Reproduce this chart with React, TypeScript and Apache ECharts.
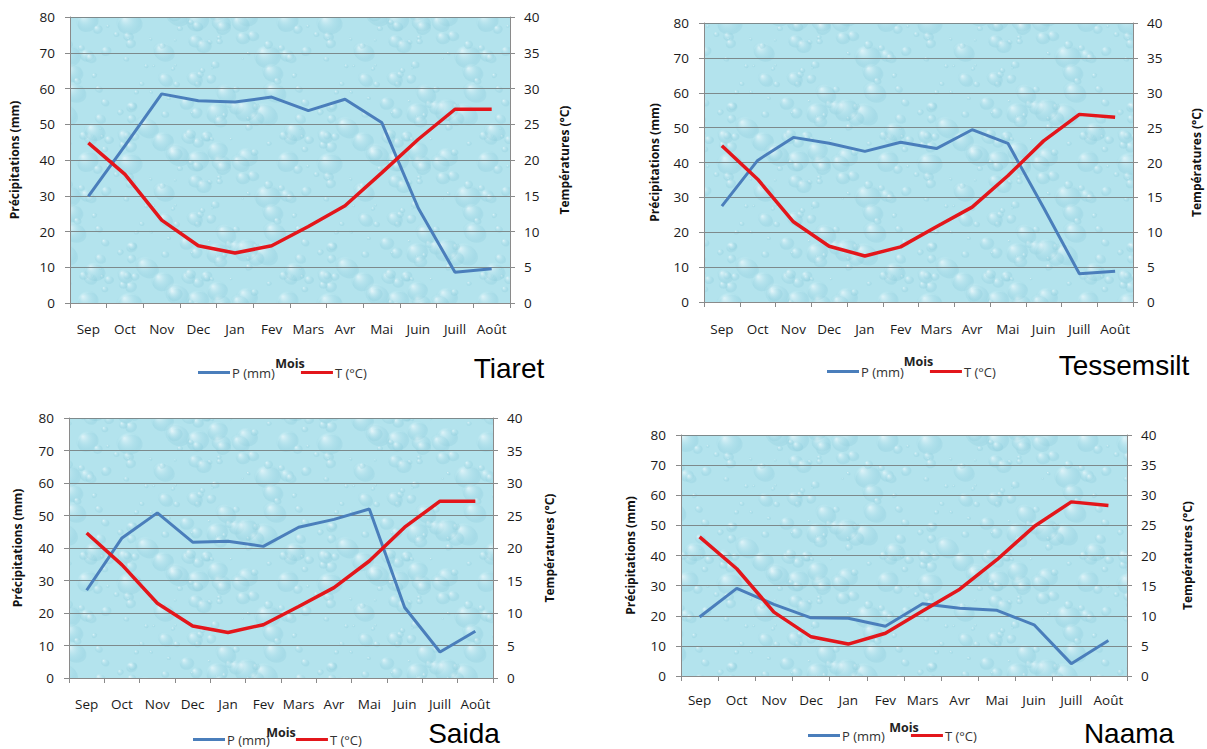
import React, { useEffect, useRef } from 'react';
import * as echarts from 'echarts';

// ---------- data ----------
const months = ['Sep', 'Oct', 'Nov', 'Dec', 'Jan', 'Fev', 'Mars', 'Avr', 'Mai', 'Juin', 'Juill', 'Août'];
const stations = ['Tiaret', 'Tessemsilt', 'Saida', 'Naama'];

const tiaretP = [29.8, 44.0, 58.5, 56.6, 56.2, 57.6, 53.8, 57.0, 50.5, 26.5, 8.6, 9.6];
const tiaretT = [22.4, 18.0, 11.6, 8.0, 7.0, 8.0, 10.7, 13.6, 18.2, 22.9, 27.1, 27.1];

const tessemsiltP = [27.5, 40.6, 47.2, 45.5, 43.2, 45.8, 44.0, 49.4, 45.5, 27.0, 8.1, 8.8];
const tessemsiltT = [22.4, 17.6, 11.5, 8.0, 6.6, 7.9, 10.8, 13.6, 18.1, 23.1, 26.9, 26.5];

const saidaP = [27.0, 43.1, 50.8, 41.8, 42.1, 40.5, 46.4, 48.8, 52.0, 21.7, 8.0, 14.4];
const saidaT = [22.3, 17.4, 11.5, 8.0, 7.0, 8.2, 11.0, 13.9, 18.0, 23.2, 27.2, 27.2];

const naamaP = [19.6, 29.1, 23.8, 19.3, 19.2, 16.5, 24.0, 22.5, 21.8, 17.0, 4.1, 11.8];
const naamaT = [23.1, 17.8, 10.6, 6.5, 5.3, 7.1, 10.8, 14.4, 19.3, 24.8, 28.9, 28.3];

const precipSeries = [tiaretP, tessemsiltP, saidaP, naamaP];
const tempSeries = [tiaretT, tessemsiltT, saidaT, naamaT];

const pName = 'P (mm)';
const tName = 'T (°C)';
const leftAxisName = 'Précipitations (mm)';
const rightAxisName = 'Températures (°C)';
const xAxisName = 'Mois';

// ---------- layout ----------
const layouts = [
  { left: 70, top: 17, width: 440, height: 286, lGap: 50, rGap: 48, xGap: 54, lblMargin: 19, legLeft: 198, legY: 375, titleX: 509, titleY: 368 },
  { left: 704, top: 23, width: 429, height: 279, lGap: 44, rGap: 57, xGap: 53, lblMargin: 20, legLeft: 827, legY: 374, titleX: 1124, titleY: 365 },
  { left: 69, top: 418, width: 424, height: 260, lGap: 46, rGap: 50, xGap: 48, lblMargin: 19, legLeft: 193, legY: 742, titleX: 464, titleY: 733 },
  { left: 681, top: 435, width: 446, height: 241, lGap: 45, rGap: 54, xGap: 45, lblMargin: 17, legLeft: 808, legY: 738, titleX: 1129, titleY: 733 },
];

const FONT = 'Open Sans';
const AXIS_GRAY = '#8a8a8a';
const GRID_GRAY = '#7d8a8c';
const BLUE = '#4a7ebb';
const RED = '#e3161b';

function makeDroplets(): HTMLCanvasElement {
  const w = 200, h = 140;
  const c = document.createElement('canvas');
  c.width = w; c.height = h;
  const g = c.getContext('2d')!;
  g.fillStyle = '#b3e3ed';
  g.fillRect(0, 0, w, h);
  let s = 4242;
  const next = () => { s = (s * 16807) % 2147483647; return s / 2147483647; };
  const shifts = [[0, 0], [w, 0], [-w, 0], [0, h], [0, -h]];
  for (let i = 0; i < 110; i++) {
    const x = next() * w, y = next() * h;
    const r = 1.2 + next() * next() * 15;
    const rot = (next() - 0.5) * 1.2;
    for (const [dx, dy] of shifts) {
      const cx = x + dx, cy = y + dy;
      g.beginPath();
      g.ellipse(cx + r * 0.12, cy + r * 0.18, r, r * 0.8, rot, 0, Math.PI * 2);
      g.fillStyle = 'rgba(110,185,205,0.16)';
      g.fill();
      g.beginPath();
      g.ellipse(cx, cy, r, r * 0.8, rot, 0, Math.PI * 2);
      const grd = g.createRadialGradient(cx - r * 0.35, cy - r * 0.35, r * 0.05, cx, cy, r);
      grd.addColorStop(0, 'rgba(245,253,255,0.65)');
      grd.addColorStop(0.6, 'rgba(195,235,243,0.25)');
      grd.addColorStop(1, 'rgba(150,210,225,0.18)');
      g.fillStyle = grd;
      g.fill();
    }
  }
  return c;
}

export default function App() {
  const ref = useRef<HTMLDivElement>(null);
  useEffect(() => {
    if (!ref.current) return;
    const chart = echarts.init(ref.current, null, { renderer: 'svg' });
    const drops = makeDroplets();
    const pattern: any = { image: drops, repeat: 'repeat', imageWidth: drops.width, imageHeight: drops.height };

    const grid: any[] = [];
    const xAxis: any[] = [];
    const yAxis: any[] = [];
    const series: any[] = [];
    const legend: any[] = [];
    const graphic: any[] = [];

    layouts.forEach((L, i) => {
      grid.push({ left: L.left, top: L.top, width: L.width, height: L.height, show: true, backgroundColor: pattern, borderWidth: 0 });
      xAxis.push({
        type: 'category', gridIndex: i, data: months, boundaryGap: true,
        axisLine: { show: true, lineStyle: { color: AXIS_GRAY, width: 1 } },
        axisTick: { show: true, length: 5, lineStyle: { color: AXIS_GRAY } },
        axisLabel: { interval: 0, color: '#1a1a1a', fontFamily: FONT, fontSize: 13.5, margin: L.lblMargin },
        name: xAxisName, nameLocation: 'middle', nameGap: L.xGap,
        nameTextStyle: { fontWeight: 'bold', fontSize: 12.5, color: '#222', fontFamily: FONT },
        splitLine: { show: false },
      });
      yAxis.push({
        type: 'value', gridIndex: i, position: 'left', min: 0, max: 80, interval: 10,
        axisLine: { show: true, lineStyle: { color: AXIS_GRAY } },
        axisTick: { show: true, length: 5, lineStyle: { color: AXIS_GRAY } },
        axisLabel: { color: '#1a1a1a', fontFamily: FONT, fontSize: 13.5, margin: 15 },
        splitLine: { show: true, lineStyle: { color: GRID_GRAY, width: 1 } },
        name: leftAxisName, nameLocation: 'middle', nameGap: L.lGap,
        nameTextStyle: { fontWeight: 'bold', fontSize: 12, color: '#111', fontFamily: FONT },
      });
      yAxis.push({
        type: 'value', gridIndex: i, position: 'right', min: 0, max: 40, interval: 5,
        axisLine: { show: true, lineStyle: { color: AXIS_GRAY } },
        axisTick: { show: true, length: 5, lineStyle: { color: AXIS_GRAY } },
        axisLabel: { color: '#1a1a1a', fontFamily: FONT, fontSize: 13.5, margin: 14 },
        splitLine: { show: false },
        name: rightAxisName, nameLocation: 'middle', nameGap: L.rGap,
        nameTextStyle: { fontWeight: 'bold', fontSize: 12, color: '#111', fontFamily: FONT },
      });
      series.push({
        type: 'line', name: pName, xAxisIndex: i, yAxisIndex: 2 * i, data: precipSeries[i],
        symbol: 'none', lineStyle: { color: BLUE, width: 3 }, itemStyle: { color: BLUE }, z: 3,
      });
      series.push({
        type: 'line', name: tName, xAxisIndex: i, yAxisIndex: 2 * i + 1, data: tempSeries[i],
        symbol: 'none', lineStyle: { color: RED, width: 3.5 }, itemStyle: { color: RED }, z: 4,
      });
      legend.push({
        data: [pName, tName], left: L.legLeft, top: L.legY - 9, padding: 0,
        icon: 'rect', itemWidth: 32, itemHeight: 3, itemGap: 26, selectedMode: false,
        textStyle: { fontFamily: FONT, fontSize: 13, color: '#333', padding: [0, 0, 0, -3] },
      });
      graphic.push({
        type: 'text', x: L.titleX, y: L.titleY, z: 10,
        style: {
          text: stations[i], fontFamily: 'Liberation Sans', fontSize: 28, fill: '#000',
          align: 'center', verticalAlign: 'middle', textAlign: 'center', textVerticalAlign: 'middle',
        },
      });
    });

    chart.setOption({
      animation: false,
      backgroundColor: '#ffffff',
      grid, xAxis, yAxis, series, legend, graphic,
    });
    return () => chart.dispose();
  }, []);
  return <div ref={ref} style={{ position: 'fixed', left: 0, top: 0, width: 1207, height: 749, background: '#fff' }} />;
}
